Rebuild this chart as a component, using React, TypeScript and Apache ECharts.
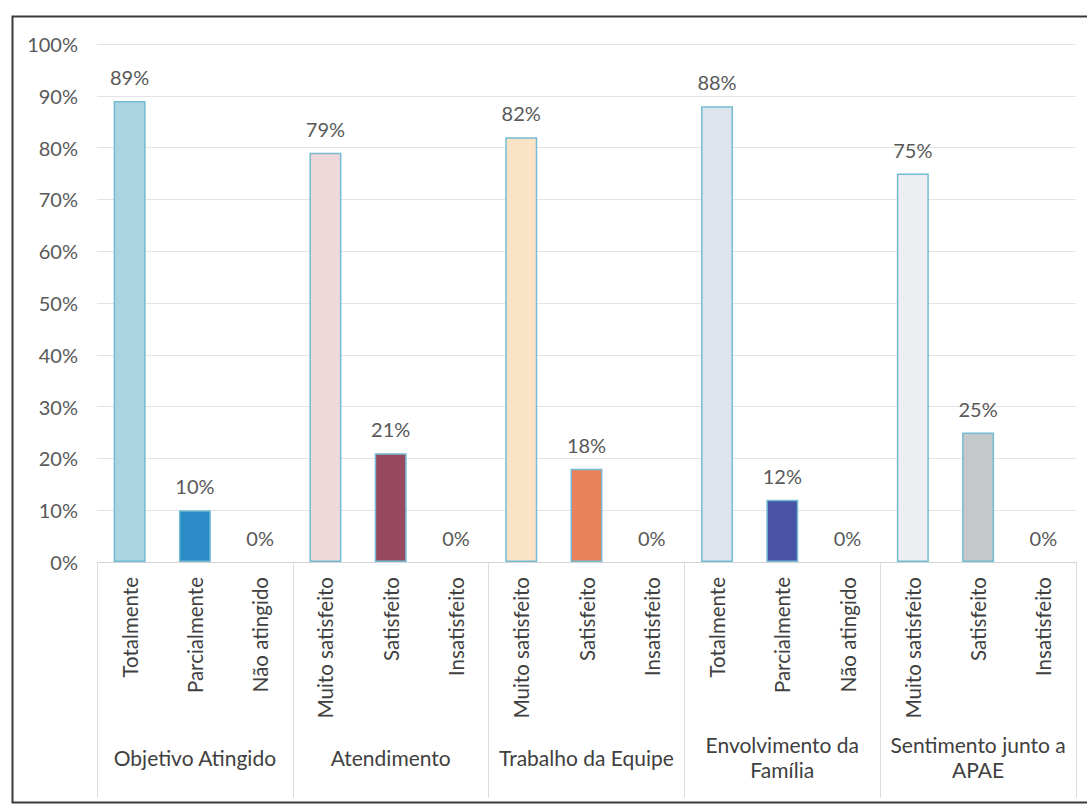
import React, { useEffect, useRef } from "react";
import * as echarts from "echarts";

const categories = [
  "Totalmente", "Parcialmente", "Não atingido",
  "Muito satisfeito", "Satisfeito", "Insatisfeito",
  "Muito satisfeito", "Satisfeito", "Insatisfeito",
  "Totalmente", "Parcialmente", "Não atingido",
  "Muito satisfeito", "Satisfeito", "Insatisfeito",
];
const groups = [
  "Objetivo Atingido",
  "Atendimento",
  "Trabalho da Equipe",
  "Envolvimento da\nFamília",
  "Sentimento junto a\nAPAE",
];
const values = [89, 10, 0, 79, 21, 0, 82, 18, 0, 88, 12, 0, 75, 25, 0];
const barColors = [
  "#a9d4e1", "#2b8bc7", "#cccccc",
  "#f0d7da", "#98485f", "#cccccc",
  "#fbe4c6", "#e8825a", "#cccccc",
  "#dfe4ec", "#4953a5", "#cccccc",
  "#eceef1", "#c5c8cb", "#cccccc",
];
const yTicks = [0, 10, 20, 30, 40, 50, 60, 70, 80, 90, 100];

const FONT = "Lato";

export default function App() {
  const ref = useRef<HTMLDivElement>(null);
  useEffect(() => {
    if (!ref.current) return;
    const chart = echarts.init(ref.current, null, { renderer: "svg" });
    chart.setOption({
      animation: false,
      backgroundColor: "#ffffff",
      textStyle: { fontFamily: FONT },
      grid: { left: 97, right: 11, top: 44, bottom: 243, containLabel: false },
      xAxis: [
        {
          type: "category",
          data: categories,
          position: "bottom",
          axisLine: { show: true, lineStyle: { color: "#d4d4d4", width: 1 } },
          axisTick: { show: false },
          axisLabel: {
            rotate: 90,
            interval: 0,
            margin: 15,
            color: "#404040",
            fontSize: 20.5,
            fontFamily: FONT,
          },
        },
        {
          type: "category",
          data: groups,
          position: "bottom",
          axisLine: { show: false },
          axisTick: { show: true, length: 236, lineStyle: { color: "#dcdcdc", width: 1 } },
          axisLabel: {
            interval: 0,
            margin: 195,
            verticalAlign: "middle",
            lineHeight: 25,
            color: "#404040",
            fontSize: 21,
            fontFamily: FONT,
          },
        },
      ],
      yAxis: {
        type: "value",
        min: yTicks[0],
        max: yTicks[yTicks.length - 1],
        interval: 10,
        axisLine: { show: false },
        axisTick: { show: false },
        axisLabel: {
          formatter: "{value}%",
          color: "#595959",
          fontSize: 20,
          margin: 19,
          fontFamily: FONT,
        },
        splitLine: { lineStyle: { color: "#e4e4e4", width: 1 } },
      },
      series: [
        {
          type: "bar",
          xAxisIndex: 0,
          barWidth: "49%",
          data: values.map((v, i) => ({
            value: v,
            itemStyle: {
              color: barColors[i],
              borderColor: "#74bcd3",
              borderWidth: v > 0 ? 1.5 : 0,
            },
          })),
          label: {
            show: true,
            position: "top",
            distance: 14,
            formatter: "{c}%",
            color: "#595959",
            fontSize: 20,
            fontFamily: FONT,
          },
        },
      ],
      graphic: [
        {
          type: "rect",
          left: 10,
          top: 14,
          shape: { width: 1090, height: 786 },
          style: { fill: "none", stroke: "#3a3a3a", lineWidth: 2 },
          silent: true,
          z: 100,
        },
      ],
    });
    return () => chart.dispose();
  }, []);
  return (
    <div
      ref={ref}
      style={{ position: "fixed", left: 0, top: 0, width: 1087, height: 805 }}
    />
  );
}
